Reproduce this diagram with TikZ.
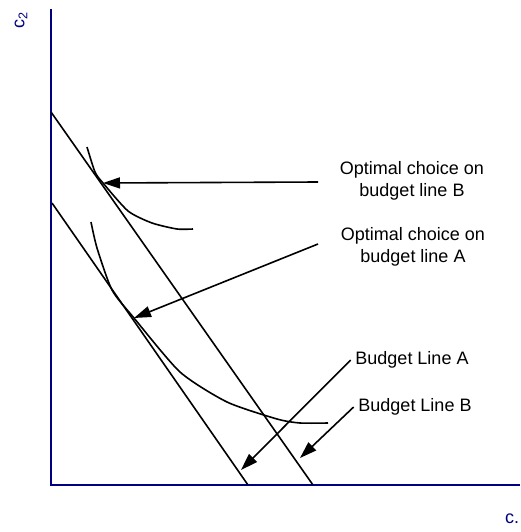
\documentclass[tikz,border=0pt]{standalone}
\usepackage{fontspec}
\setmainfont{Liberation Sans}
\usetikzlibrary{arrows.meta,positioning}
\definecolor{axisblue}{RGB}{0,0,128}

\begin{document}
\begin{tikzpicture}[
  x=1pt, y=-1pt,
  line width=1.6pt,
  axis/.style={draw=axisblue, line width=2.2pt},
  indiff/.style={draw, line join=round},
  pointer/.style={-{Triangle[length=17pt,width=11pt]}},
  label text/.style={font=\fontsize{18}{22}\selectfont, align=center, inner sep=4pt},
  axis label/.style={font=\fontsize{18}{22}\selectfont, text=axisblue, inner sep=0pt},
]
  \useasboundingbox (0,0) rectangle (520,532);

  % Axes and their labels
  \coordinate (O) at (51,485);
  \coordinate (ytop) at (51,9);
  \coordinate (xend) at (520,485);
  \draw[axis] (ytop) -- (O) -- (xend);
  \node[axis label, rotate=90] (c2) at (21,20) {c\textsubscript{2}};
  \node[axis label] (c1) at (512,519) {c.};

  % Budget lines, B is the outer one
  \coordinate (B0) at (51,112);
  \coordinate (B1) at (313,485);
  \coordinate (A0) at (52,203);
  \coordinate (A1) at (248,485);
  \draw (B0) -- (B1);
  \draw (A0) -- (A1);

  % Indifference curves, tangent to the budget lines
  \draw[indiff] plot[smooth, tension=0.4] coordinates {
    (87,147) (95,172) (103,183) (128,211) (152,223) (177,229) (193,229)};
  \draw[indiff] plot[smooth, tension=0.4] coordinates {
    (91,222) (97,248) (112,290) (134,318) (180,372) (227,402) (277,419)
    (300,423) (328,423)};

  % Labels
  \node[label text] (optB) at (412,181) {Optimal choice on\\budget line B};
  \node[label text] (optA) at (413,247) {Optimal choice on\\budget line A};
  \node[label text] (lineA) at (412,360) {Budget Line A};
  \node[label text] (lineB) at (415,407) {Budget Line B};

  % Pointers from the labels
  \coordinate (tanB) at (103,183);
  \coordinate (tanA) at (134,318);
  \coordinate (tailB) at (318,182);
  \coordinate (tailA) at (318,244);
  \coordinate (onA) at (241,470);
  \coordinate (onB) at (300,458);
  \draw[pointer] (tailB) -- (tanB);
  \draw[pointer] (tailA) -- (tanA);
  \draw[pointer] (lineA.west) -- (onA);
  \draw[pointer] (lineB.west) -- (onB);

\end{tikzpicture}
\end{document}
